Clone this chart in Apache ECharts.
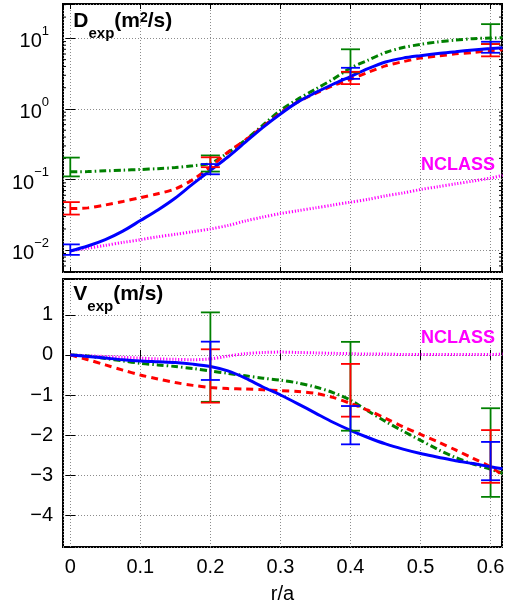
<!DOCTYPE html>
<html>
<head>
<meta charset="utf-8">
<script src="https://cdn.jsdelivr.net/npm/echarts@6/dist/echarts.min.js"></script>
<style>
  html, body { margin: 0; padding: 0; background: #ffffff; }
  #chart { width: 508px; height: 607px; }
</style>
</head>
<body>
<div id="chart"></div>
<script>
// Normalised radius r/a at which the profiles are sampled
const radius = [0, 0.025, 0.05, 0.075, 0.1, 0.125, 0.15, 0.175, 0.2, 0.225, 0.25, 0.275, 0.3,
  0.325, 0.35, 0.375, 0.4, 0.425, 0.45, 0.475, 0.5, 0.525, 0.55, 0.575, 0.6, 0.617];

// Diffusion coefficient D_exp (m^2/s)
const dBlue = [0.00977, 0.01148, 0.01413, 0.01862, 0.0263, 0.0372, 0.055, 0.0871, 0.135, 0.209,
  0.339, 0.55, 0.851, 1.26, 1.70, 2.24, 2.88, 3.72, 4.62, 5.25, 5.69, 6.10, 6.46, 6.84, 7.16, 7.38];
const dRed = [0.0389, 0.0398, 0.0437, 0.049, 0.0556, 0.0631, 0.0741, 0.100, 0.151, 0.245,
  0.363, 0.562, 0.871, 1.26, 1.66, 2.14, 2.63, 3.31, 4.07, 4.68, 5.25, 5.62, 6.03, 6.31, 6.68, 6.92];
const dGreen = [0.129, 0.130, 0.133, 0.136, 0.139, 0.143, 0.148, 0.157, 0.170, 0.240,
  0.363, 0.589, 0.955, 1.38, 1.91, 2.63, 3.80, 4.90, 6.31, 7.41, 8.22, 8.91, 9.44, 9.89, 10.1, 10.2];
const dNclass = [0.00977, 0.0107, 0.0117, 0.0129, 0.0141, 0.0155, 0.0168, 0.0183, 0.0200, 0.0224,
  0.0260, 0.0295, 0.0331, 0.0363, 0.0398, 0.0437, 0.0479, 0.0525, 0.0589, 0.0646, 0.0724, 0.0794,
  0.0871, 0.0955, 0.105, 0.115];

// Convection velocity V_exp (m/s)
const vBlue = [0, -0.04, -0.08, -0.12, -0.15, -0.17, -0.19, -0.23, -0.29, -0.40, -0.58, -0.80, -1.0,
  -1.22, -1.45, -1.68, -1.88, -2.06, -2.22, -2.35, -2.46, -2.55, -2.64, -2.71, -2.79, -2.84];
const vRed = [0, -0.12, -0.25, -0.38, -0.50, -0.60, -0.69, -0.76, -0.81, -0.84, -0.85, -0.87, -0.89,
  -0.91, -0.96, -1.06, -1.21, -1.38, -1.58, -1.79, -1.98, -2.17, -2.37, -2.58, -2.79, -3.0];
const vGreen = [0, -0.03, -0.09, -0.15, -0.21, -0.25, -0.29, -0.34, -0.40, -0.46, -0.52, -0.58, -0.63,
  -0.70, -0.80, -0.94, -1.13, -1.40, -1.66, -1.90, -2.13, -2.36, -2.56, -2.72, -2.85, -2.95];
const vNclass = [0, -0.02, -0.04, -0.06, -0.08, -0.10, -0.11, -0.12, -0.10, -0.03, 0.03, 0.06, 0.07,
  0.06, 0.05, 0.04, 0.03, 0.02, 0.02, 0.01, 0.01, 0.01, 0.01, 0.01, 0.01, 0.02];

// Uncertainty ranges [low, high] at the measurement radii
const errRadius = [0, 0.2, 0.4, 0.6];
const dErrBlue = [[0.0086, 0.0121], [0.119, 0.166], [2.67, 3.83], [6.25, 8.95]];
const dErrRed = [[0.032, 0.048], [0.15, 0.207], [2.25, 3.36], [5.56, 8.3]];
const dErrGreen = [[0.111, 0.205], [0.13, 0.22], [3.3, 7.0], [8.3, 15.9]];
const vErrRadius = [0.2, 0.4, 0.6];
const vErrBlue = [[-0.625, 0.33], [-2.23, -1.275], [-3.125, -2.17]];
const vErrRed = [[-1.19, 0.14], [-1.54, -0.225], [-3.19, -1.875]];
const vErrGreen = [[-1.17, 1.06], [-1.89, 0.325], [-3.54, -1.33]];

// Tick labels
const xTickLabels = ['0', '0.1', '0.2', '0.3', '0.4', '0.5', '0.6'];
const dTickExponents = { '-2': '\u22122', '-1': '\u22121', '0': '0', '1': '1' };
const vTickLabels = { '-4': '\u22124', '-3': '\u22123', '-2': '\u22122', '-1': '\u22121', '0': '0', '1': '1' };

const FONT = '"Liberation Sans", Arial, Helvetica, sans-serif';
const X_MIN = -0.0104, X_MAX = 0.6163;
const D_MIN = 0.00492, D_MAX = 30.65;
const V_MIN = -4.79, V_MAX = 1.8925;

const BLUE = '#0000ff', RED = '#ff0000', GREEN = '#008000', MAGENTA = '#ff00ff';

const chart = echarts.init(document.getElementById('chart'), null, { renderer: 'canvas' });

function pairs(xs, ys) { return xs.map((x, i) => [x, ys[i]]); }
function errData(xs, ranges) { return xs.map((x, i) => [x, ranges[i][0], ranges[i][1]]); }

function renderErrorBar(params, api) {
  const x = api.value(0);
  const lo = api.coord([x, api.value(1)]);
  const hi = api.coord([x, api.value(2)]);
  const w = 9.5;
  const style = { stroke: api.visual('color'), lineWidth: 1.8 };
  return {
    type: 'group',
    children: [
      { type: 'line', shape: { x1: lo[0], y1: lo[1], x2: hi[0], y2: hi[1] }, style: style },
      { type: 'line', shape: { x1: lo[0] - w, y1: lo[1], x2: lo[0] + w, y2: lo[1] }, style: style },
      { type: 'line', shape: { x1: hi[0] - w, y1: hi[1], x2: hi[0] + w, y2: hi[1] }, style: style }
    ]
  };
}

// short minor ticks of the logarithmic axis on both sides of the frame
const minorLogValues = [];
for (let e = -3; e <= 1; e++) {
  for (let k = 2; k <= 9; k++) {
    const v = k * Math.pow(10, e);
    if (v > D_MIN && v < D_MAX) minorLogValues.push([0, v]);
  }
}
function renderMinorTick(params, api) {
  const y = api.coord([0, api.value(1)])[1];
  const cs = params.coordSys;
  const style = { stroke: '#000', lineWidth: 1 };
  return {
    type: 'group',
    children: [
      { type: 'line', shape: { x1: cs.x, y1: y, x2: cs.x + 3, y2: y }, style: style },
      { type: 'line', shape: { x1: cs.x + cs.width - 3, y1: y, x2: cs.x + cs.width, y2: y }, style: style }
    ]
  };
}

function isMultiple(v, step) {
  const q = v / step;
  return Math.abs(q - Math.round(q)) < 1e-6;
}

const gridLine = { show: true, lineStyle: { color: '#8c8c8c', width: 1, type: [1, 2] } };
const innerTick = { show: true, inside: true, length: 5, lineStyle: { color: '#000', width: 1 } };
const nclassLine = { color: MAGENTA, width: 3, type: [1.2, 1.8] };

function xAxisCfg(gridIndex, position, withLabels) {
  return {
    type: 'value', gridIndex: gridIndex, position: position,
    min: X_MIN, max: X_MAX, minInterval: 0.1, maxInterval: 0.1,
    axisLine: { show: false },
    axisTick: innerTick,
    splitLine: position === 'bottom' ? gridLine : { show: false },
    axisLabel: withLabels ? {
      show: true, margin: 10, fontSize: 20, color: '#000', fontFamily: FONT,
      formatter: v => isMultiple(v, 0.1) && v >= 0 ? xTickLabels[Math.round(v * 10)] : ''
    } : { show: false },
    name: withLabels ? 'r/a' : '',
    nameLocation: 'middle', nameGap: 37,
    nameTextStyle: { fontSize: 20, color: '#000', fontFamily: FONT }
  };
}

const option = {
  animation: false,
  backgroundColor: '#ffffff',
  grid: [
    { left: 63, top: 4, width: 439, height: 268, show: true, borderColor: '#000', borderWidth: 2, backgroundColor: 'transparent' },
    { left: 63, top: 279, width: 439, height: 268, show: true, borderColor: '#000', borderWidth: 2, backgroundColor: 'transparent' }
  ],
  title: [
    {
      left: 73, top: 11, padding: 0,
      text: '{sp| }{m|D}{sub|exp}{m|(m}{sup|2}{m|/s)}',
      textStyle: {
        rich: {
          sp: { fontSize: 1, lineHeight: 30 },
          m: { fontSize: 21, fontWeight: 'bold', fontFamily: FONT, color: '#000', lineHeight: 21, verticalAlign: 'top' },
          sub: { fontSize: 15, fontWeight: 'bold', fontFamily: FONT, color: '#000', lineHeight: 14, verticalAlign: 'bottom' },
          sup: { fontSize: 14, fontWeight: 'bold', fontFamily: FONT, color: '#000', lineHeight: 8, verticalAlign: 'top' }
        }
      }
    },
    {
      left: 73, top: 284, padding: 0,
      text: '{sp| }{m|V}{sub|exp}{m|(m/s)}',
      textStyle: {
        rich: {
          sp: { fontSize: 1, lineHeight: 30 },
          m: { fontSize: 21, fontWeight: 'bold', fontFamily: FONT, color: '#000', lineHeight: 21, verticalAlign: 'top' },
          sub: { fontSize: 15, fontWeight: 'bold', fontFamily: FONT, color: '#000', lineHeight: 14, verticalAlign: 'bottom' }
        }
      }
    },
    {
      left: 421, top: 156, padding: 0, text: 'NCLASS',
      textStyle: { fontSize: 18, fontWeight: 'bold', fontFamily: FONT, color: MAGENTA }
    },
    {
      left: 421, top: 329, padding: 0, text: 'NCLASS',
      textStyle: { fontSize: 18, fontWeight: 'bold', fontFamily: FONT, color: MAGENTA }
    }
  ],
  xAxis: [
    xAxisCfg(0, 'bottom', false),
    xAxisCfg(0, 'top', false),
    xAxisCfg(1, 'bottom', true),
    xAxisCfg(1, 'top', false)
  ],
  yAxis: [
    {
      type: 'log', logBase: 10, gridIndex: 0, position: 'left', min: D_MIN, max: D_MAX,
      axisLine: { show: false }, axisTick: innerTick, splitLine: gridLine,
      axisLabel: {
        show: true, margin: 14, color: '#000', fontFamily: FONT,
        formatter: function (v) {
          const e = Math.log10(v);
          const n = Math.round(e);
          if (Math.abs(e - n) > 1e-6 || dTickExponents[n] === undefined) return '';
          return '{sp| }{b|10}{s|' + dTickExponents[n] + '}';
        },
        rich: {
          sp: { fontSize: 1, lineHeight: 27 },
          b: { fontSize: 20, fontFamily: FONT, color: '#000', lineHeight: 21, verticalAlign: 'bottom' },
          s: { fontSize: 13, fontFamily: FONT, color: '#000', lineHeight: 15, verticalAlign: 'top' }
        }
      }
    },
    {
      type: 'log', logBase: 10, gridIndex: 0, position: 'right', min: D_MIN, max: D_MAX,
      axisLine: { show: false }, axisTick: innerTick, splitLine: { show: false }, axisLabel: { show: false }
    },
    {
      type: 'value', gridIndex: 1, position: 'left', min: V_MIN, max: V_MAX, minInterval: 1, maxInterval: 1,
      axisLine: { show: false }, axisTick: innerTick, splitLine: gridLine,
      axisLabel: {
        show: true, margin: 10, fontSize: 20, color: '#000', fontFamily: FONT,
        formatter: v => isMultiple(v, 1) && vTickLabels[Math.round(v)] !== undefined ? vTickLabels[Math.round(v)] : ''
      }
    },
    {
      type: 'value', gridIndex: 1, position: 'right', min: V_MIN, max: V_MAX, minInterval: 1, maxInterval: 1,
      axisLine: { show: false }, axisTick: innerTick, splitLine: { show: false }, axisLabel: { show: false }
    }
  ],
  series: [
    // D_exp panel
    { type: 'custom', xAxisIndex: 0, yAxisIndex: 0, renderItem: renderMinorTick, data: minorLogValues, encode: { x: 0, y: 1 }, silent: true, z: 1 },
    { type: 'line', xAxisIndex: 0, yAxisIndex: 0, data: pairs(radius, dNclass), showSymbol: false, smooth: 0.3,
      lineStyle: nclassLine, z: 2 },
    { type: 'line', xAxisIndex: 0, yAxisIndex: 0, data: pairs(radius, dGreen), showSymbol: false, smooth: 0.3,
      lineStyle: { color: GREEN, width: 3, type: [7, 3, 1.5, 3] }, z: 3 },
    { type: 'line', xAxisIndex: 0, yAxisIndex: 0, data: pairs(radius, dRed), showSymbol: false, smooth: 0.3,
      lineStyle: { color: RED, width: 3, type: [7, 5] }, z: 4 },
    { type: 'line', xAxisIndex: 0, yAxisIndex: 0, data: pairs(radius, dBlue), showSymbol: false, smooth: 0.3,
      lineStyle: { color: BLUE, width: 3 }, z: 5 },
    { type: 'custom', xAxisIndex: 0, yAxisIndex: 0, renderItem: renderErrorBar, data: errData(errRadius, dErrGreen),
      encode: { x: 0, y: [1, 2] }, itemStyle: { color: GREEN }, clip: true, z: 6 },
    { type: 'custom', xAxisIndex: 0, yAxisIndex: 0, renderItem: renderErrorBar, data: errData(errRadius, dErrRed),
      encode: { x: 0, y: [1, 2] }, itemStyle: { color: RED }, clip: true, z: 7 },
    { type: 'custom', xAxisIndex: 0, yAxisIndex: 0, renderItem: renderErrorBar, data: errData(errRadius, dErrBlue),
      encode: { x: 0, y: [1, 2] }, itemStyle: { color: BLUE }, clip: true, z: 8 },

    // V_exp panel
    { type: 'line', xAxisIndex: 2, yAxisIndex: 2, data: pairs(radius, vNclass), showSymbol: false, smooth: 0.3,
      lineStyle: nclassLine, z: 2 },
    { type: 'line', xAxisIndex: 2, yAxisIndex: 2, data: pairs(radius, vGreen), showSymbol: false, smooth: 0.3,
      lineStyle: { color: GREEN, width: 3, type: [7, 3, 1.5, 3] }, z: 3 },
    { type: 'line', xAxisIndex: 2, yAxisIndex: 2, data: pairs(radius, vRed), showSymbol: false, smooth: 0.3,
      lineStyle: { color: RED, width: 3, type: [7, 5] }, z: 4 },
    { type: 'line', xAxisIndex: 2, yAxisIndex: 2, data: pairs(radius, vBlue), showSymbol: false, smooth: 0.3,
      lineStyle: { color: BLUE, width: 3 }, z: 5 },
    { type: 'custom', xAxisIndex: 2, yAxisIndex: 2, renderItem: renderErrorBar, data: errData(vErrRadius, vErrGreen),
      encode: { x: 0, y: [1, 2] }, itemStyle: { color: GREEN }, clip: true, z: 6 },
    { type: 'custom', xAxisIndex: 2, yAxisIndex: 2, renderItem: renderErrorBar, data: errData(vErrRadius, vErrRed),
      encode: { x: 0, y: [1, 2] }, itemStyle: { color: RED }, clip: true, z: 7 },
    { type: 'custom', xAxisIndex: 2, yAxisIndex: 2, renderItem: renderErrorBar, data: errData(vErrRadius, vErrBlue),
      encode: { x: 0, y: [1, 2] }, itemStyle: { color: BLUE }, clip: true, z: 8 }
  ]
};

chart.setOption(option);
</script>
</body>
</html>
